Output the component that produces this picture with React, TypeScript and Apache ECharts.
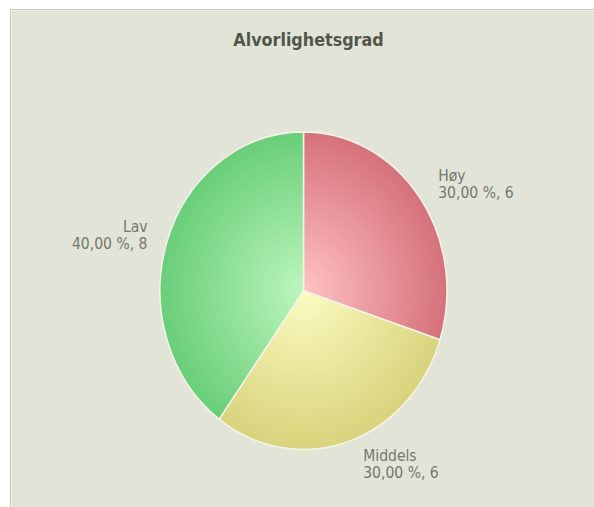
import React, { useEffect, useRef } from "react";
import * as echarts from "echarts";

const titleText = "Alvorlighetsgrad";
const categories = ["Høy", "Middels", "Lav"];
const values = [6, 6, 8];
const lightColors = ["#ffc2c4", "#fcfbc2", "#bcf6bc"];
const darkColors = ["#d6717a", "#d8d37b", "#69ce79"];

const W = 594;
const H = 507;
const SY = 1.107;
const innerH = Math.round(H / SY);
const CX = 303.5;
const CY = 262.6;
const R = 143.5;
const FONT = "'DejaVu Sans', Verdana, sans-serif";

export default function App() {
  const ref = useRef<HTMLDivElement>(null);
  useEffect(() => {
    document.body.style.margin = "0";
    if (!ref.current) return;
    const chart = echarts.init(ref.current, undefined, { renderer: "svg" });
    const total = values.reduce((a, b) => a + b, 0);
    const labelGap = (name: string) => (name === "Middels" ? 9 : name === "Lav" ? 0 : 2);
    const data = categories.map((name, i) => ({
      name,
      value: values[i],
      label: { distanceToLabelLine: labelGap(name) },
      itemStyle: {
        color: {
          type: "radial",
          x: CX,
          y: CY,
          r: R,
          global: true,
          colorStops: [
            { offset: 0, color: lightColors[i] },
            { offset: 1, color: darkColors[i] },
          ],
        },
      },
    }));
    chart.setOption({
      animation: false,
      backgroundColor: "transparent",
      title: {
        text: titleText,
        left: CX,
        top: 23,
        textAlign: "center",
        textStyle: {
          fontFamily: FONT,
          fontWeight: "bold",
          fontSize: 16,
          color: "#51564a",
        },
      },
      series: [
        {
          type: "pie",
          center: [CX, CY],
          radius: R,
          startAngle: 90,
          clockwise: true,
          avoidLabelOverlap: false,
          data,
          itemStyle: {
            borderColor: "#f3f3e8",
            borderWidth: 1.5,
          },
          emphasis: { disabled: true },
          label: {
            show: true,
            position: "outside",
            fontFamily: FONT,
            fontSize: 14,
            lineHeight: 15.5,
            color: "#74786c",
            formatter: (p: any) => {
              const pct = ((p.value / total) * 100).toFixed(2).replace(".", ",");
              return `${p.name}\n${pct} %, ${p.value}`;
            },
          },
          labelLine: { show: false, length: 20.5, length2: 0 },
        },
      ],
    });
    return () => chart.dispose();
  }, []);

  return (
    <div
      style={{
        position: "fixed",
        left: 0,
        top: 0,
        width: W,
        height: H,
        background: "#ffffff",
        overflow: "hidden",
      }}
    >
      <div
        style={{
          position: "absolute",
          left: 10,
          top: 9,
          right: 0,
          bottom: 0,
          background: "#e3e4d8",
          borderLeft: "1px solid #c9ccc0",
          borderTop: "1px solid #c9ccc0",
          boxShadow: "inset 1px 1px 0 #eef0e6",
        }}
      />
      <div
        ref={ref}
        style={{
          position: "absolute",
          left: 0,
          top: 0,
          width: W,
          height: innerH,
          transform: `scaleY(${SY})`,
          transformOrigin: "0 0",
        }}
      />
    </div>
  );
}
